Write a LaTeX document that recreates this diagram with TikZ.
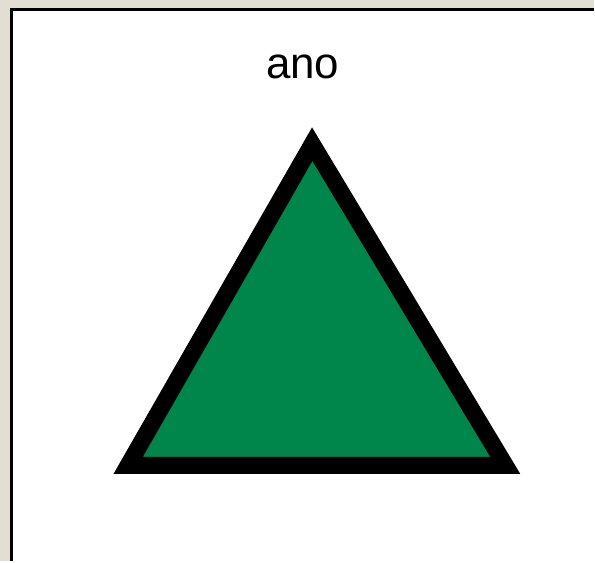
\documentclass[tikz,border=0pt]{standalone}
\usepackage{fontspec}
\setmainfont{Liberation Sans}
\usetikzlibrary{positioning}
\definecolor{panelbg}{HTML}{E3DED4}
\definecolor{deltagreen}{HTML}{00854A}
\tikzset{
  frameline/.style={draw=black, line width=3pt},
  deltashape/.style={fill=deltagreen, draw=black, line width=17pt, line join=miter},
  caption/.style={font=\fontsize{44}{50}\selectfont, inner sep=0pt, anchor=base}
}
\begin{document}
\begin{tikzpicture}[x=1pt, y=-1pt]
    % window background and frame
    \fill[panelbg] (0,0) rectangle (595,562);
    \fill[white] (10,8) rectangle (595,562);
    \draw[frameline] (11.5,562) -- (11.5,9.5) -- (595,9.5);
    \useasboundingbox (0,0) rectangle (595,562);

    % label
    \node[caption] (label) at (303.5,79) {ano};

    % triangle
    \coordinate (apex) at (313,144.5);
    \coordinate (left) at (128.5,466.5);
    \coordinate (right) at (506.5,466.5);
    \draw[deltashape] (left) -- (apex) -- (right) -- cycle;
  \end{tikzpicture}
\end{document}
